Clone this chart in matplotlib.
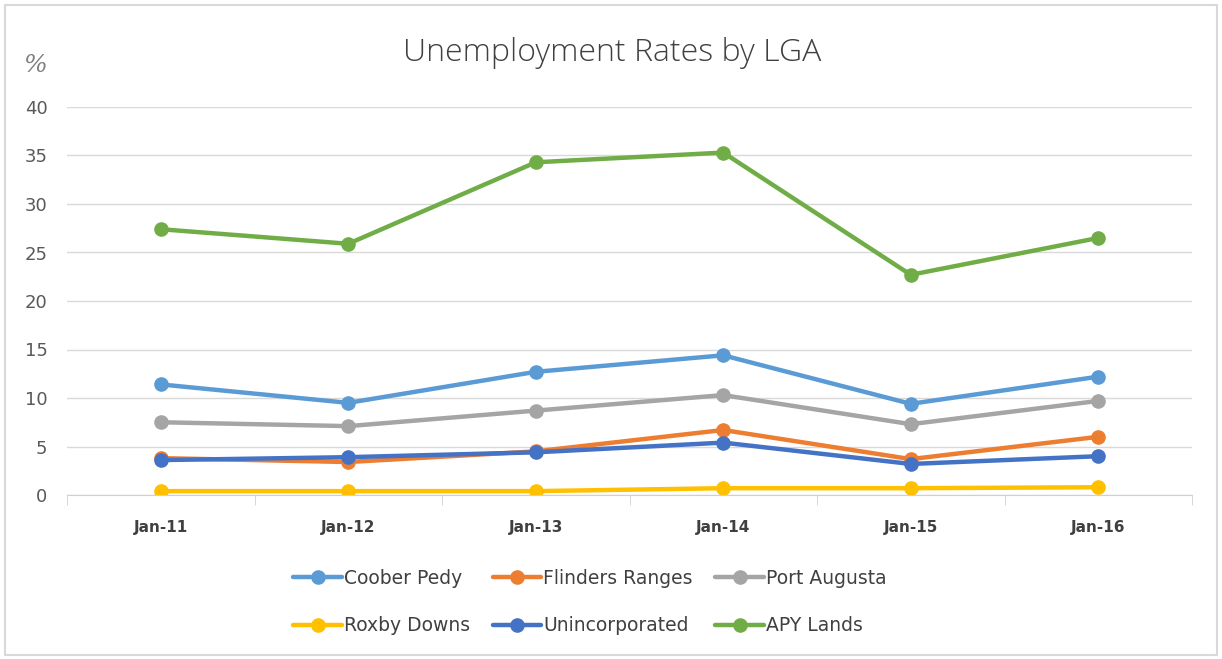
import numpy as np
import matplotlib.pyplot as plt
from matplotlib.patches import Rectangle

years = ['Jan-11', 'Jan-12', 'Jan-13', 'Jan-14', 'Jan-15', 'Jan-16']
coober_pedy = [11.4, 9.5, 12.7, 14.4, 9.4, 12.2]
flinders = [3.8, 3.4, 4.5, 6.7, 3.7, 6.0]
port_augusta = [7.5, 7.1, 8.7, 10.3, 7.3, 9.7]
roxby = [0.4, 0.4, 0.4, 0.7, 0.7, 0.8]
unincorporated = [3.6, 3.9, 4.4, 5.4, 3.2, 4.0]
apy = [27.4, 25.9, 34.3, 35.3, 22.7, 26.5]

names = ['Coober Pedy', 'Flinders Ranges', 'Port Augusta',
         'Roxby Downs', 'Unincorporated', 'APY Lands']
series = [coober_pedy, flinders, port_augusta, roxby, unincorporated, apy]
colors = ['#5B9BD5', '#ED7D31', '#A5A5A5', '#FFC000', '#4472C4', '#70AD47']

fig = plt.figure(figsize=(12.22, 6.59), dpi=100)
ax = fig.add_axes([67/1222, 1-495/659, (1192-67)/1222, (495-107)/659])

x = np.arange(len(years))
lines = []
for vals, name, c in zip(series, names, colors):
    l, = ax.plot(x, vals, '-o', color=c, lw=3.2, ms=9.5, label=name, solid_capstyle='round')
    lines.append(l)

ax.set_xlim(-0.5, 5.5)
ax.set_ylim(0, 40)
ax.set_yticks(range(0, 41, 5))
ax.yaxis.grid(True, color='#D9D9D9', lw=1)
ax.set_axisbelow(True)
for s in ['top', 'right', 'left']:
    ax.spines[s].set_visible(False)
ax.spines['bottom'].set_color('#D0D0D0')
ax.tick_params(axis='y', length=0, labelsize=13, labelcolor='#595959', pad=14)
ax.set_xticks(x)
ax.set_xticklabels(years, fontsize=11, color='#404040', fontweight='bold')
ax.tick_params(axis='x', length=0, pad=18)
ax.set_xticks(np.arange(-0.5, 6, 1), minor=True)
ax.tick_params(axis='x', which='minor', length=7, color='#D0D0D0')

fig.text(612/1222, 1-53/659, 'Unemployment Rates by LGA', ha='center', va='center',
         fontsize=23, color='#404040', family='Open Sans', fontweight='light')
fig.text(35/1222, 1-65/659, '%', ha='center', va='center', fontsize=18,
         color='#808080', style='italic', family='DejaVu Serif')

order = [0, 3, 1, 4, 2, 5]
leg = fig.legend([lines[i] for i in order], [names[i] for i in order], ncol=3,
                 loc='center', bbox_to_anchor=(590/1222, 1-602/659), frameon=False,
                 fontsize=13.5, handlelength=2.6, handletextpad=0.1, columnspacing=1.2,
                 labelspacing=1.5, labelcolor='#404040')

fig.patches.append(Rectangle((5/1222, 4/659), 1212/1222, 650/659, transform=fig.transFigure,
                             fill=False, ec='#D9D9D9', lw=1.5))

fig.savefig('out.png', dpi=100)
